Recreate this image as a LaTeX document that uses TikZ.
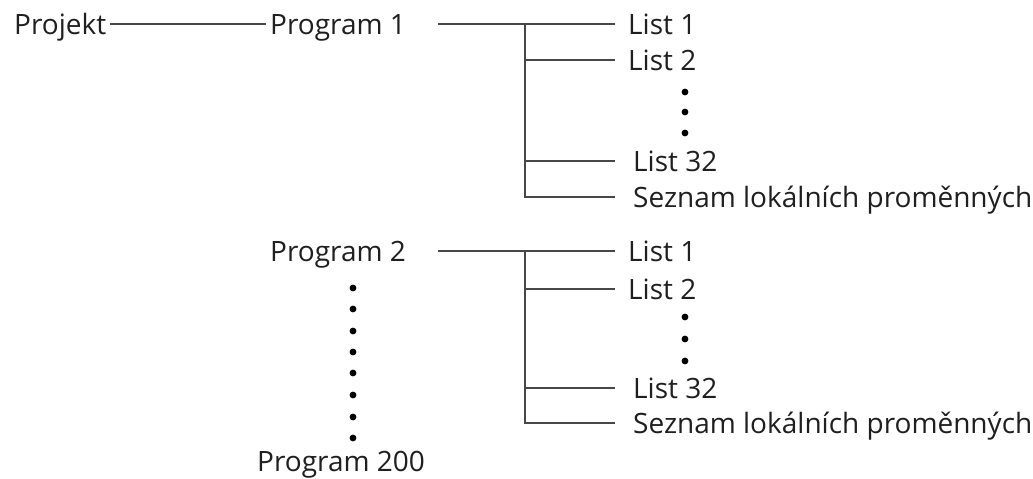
\documentclass[tikz,border=0pt]{standalone}
\usepackage{fontspec}
\setmainfont{Open Sans}
\usepackage{tikz}
\usetikzlibrary{positioning}
\tikzset{
  item/.style  ={inner xsep=4pt,inner ysep=0pt,text height=24pt,text depth=4pt,
                 font=\fontsize{28}{32}\selectfont,text=black!88},
  leaf/.style  ={item,anchor=west,inner xsep=13pt},
  leafin/.style={leaf,inner xsep=18pt},
  link/.style  ={draw=black!72,line width=2pt},
  dot/.style   ={fill=black}
}

\begin{document}
\begin{tikzpicture}[x=1pt,y=-1pt]
    \useasboundingbox (0,0) rectangle (1033,479);
    % top level
    \node[item,anchor=west] (projekt) at (10,24)  {Projekt};
    \node[item,anchor=west] (prog1)   at (266,24) {Program 1};
    \node[item,anchor=west] (prog2)   at (266,251) {Program 2};
    \node[item,anchor=west] (prog200) at (253,461) {Program 200};
    \draw[link] (projekt) -- (prog1);
    % program 1
    \coordinate[right=28pt of prog1] (out1);
    \coordinate (j1) at (525,24);
    \node[leaf]   (p1l1)  at (615,24)  {List 1};
    \node[leaf]   (p1l2)  at (615,60)  {List 2};
    \node[leafin] (p1l32) at (615,161) {List 32};
    \node[leafin] (p1sez) at (615,197) {Seznam lokálních proměnných};
    \draw[link] (out1) -- (p1l1);
    \draw[link] (j1) |- (p1l2);
    \draw[link] (j1) |- (p1l32);
    \draw[link] (j1) |- (p1sez);
    % program 2
    \coordinate[right=28pt of prog2] (out2);
    \coordinate (j2) at (525,251);
    \node[leaf]   (p2l1)  at (615,251) {List 1};
    \node[leaf]   (p2l2)  at (615,289) {List 2};
    \node[leafin] (p2l32) at (615,388) {List 32};
    \node[leafin] (p2sez) at (615,423) {Seznam lokálních proměnných};
    \draw[link] (out2) -- (p2l1);
    \draw[link] (j2) |- (p2l2);
    \draw[link] (j2) |- (p2l32);
    \draw[link] (j2) |- (p2sez);
    % dots
    \foreach \y in {92,112,133,317,339,361}
      \fill[dot] (685,\y) circle (3.4pt);
    \foreach \y in {288,309,331,352,373,395,417,438}
      \fill[dot] (353,\y) circle (3.4pt);
  \end{tikzpicture}
\end{document}
